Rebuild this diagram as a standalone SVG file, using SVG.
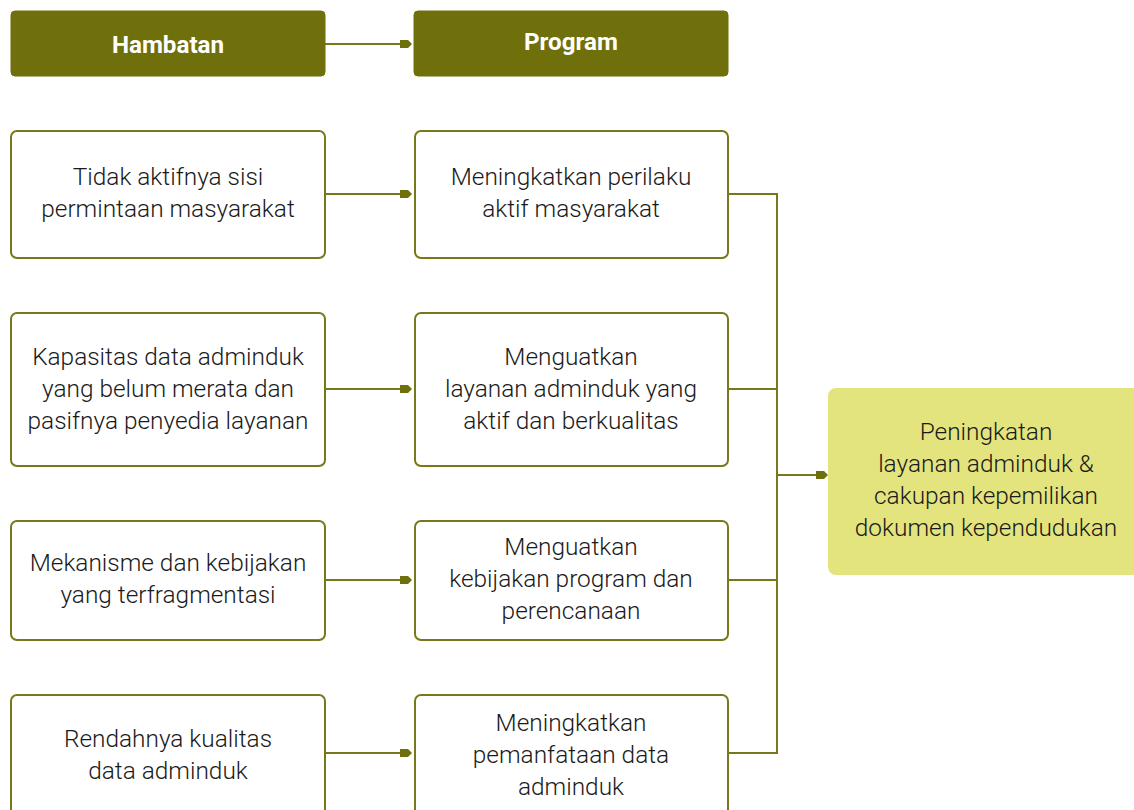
<svg xmlns="http://www.w3.org/2000/svg" width="1134" height="810" viewBox="0 0 1134 810">
<style>
.hdr{fill:#6f700c;stroke:#6f700c;stroke-width:1}
.box{fill:#ffffff;stroke:#78781a;stroke-width:2}
.goal{fill:#e4e47f;stroke:none}
.ht{font-family:Roboto,"Liberation Sans",sans-serif;font-weight:700;font-size:24.2px;fill:#ffffff;text-anchor:middle}
.t{font-family:Roboto,"Liberation Sans",sans-serif;font-weight:300;font-size:24.4px;fill:#1a1a1a;text-anchor:middle}
.c{fill:none;stroke:#78781a;stroke-width:2}
</style>
<defs>
<marker id="arr" viewBox="0 0 12 10" refX="11" refY="5" markerWidth="12" markerHeight="10" markerUnits="userSpaceOnUse" orient="auto">
<path d="M0,1 L8,1 L12,5 L8,9 L0,9 Z" fill="#6f700c"/>
</marker>
</defs>
<rect width="1134" height="810" fill="#ffffff"/>
<g id="connectors">
<line class="c" x1="325" y1="44" x2="411" y2="44" marker-end="url(#arr)"/>
<line class="c" x1="325" y1="194" x2="411" y2="194" marker-end="url(#arr)"/>
<line class="c" x1="325" y1="389" x2="411" y2="389" marker-end="url(#arr)"/>
<line class="c" x1="325" y1="580" x2="411" y2="580" marker-end="url(#arr)"/>
<line class="c" x1="325" y1="753" x2="411" y2="753" marker-end="url(#arr)"/>
<path class="c" d="M728,194 H777 V753 H728"/>
<line class="c" x1="728" y1="389" x2="777" y2="389"/>
<line class="c" x1="728" y1="580" x2="777" y2="580"/>
<line class="c" x1="777" y1="475" x2="827" y2="475" marker-end="url(#arr)"/>
</g>
<g id="hambatan">
<rect class="hdr" x="11" y="11" width="314" height="65" rx="4"/>
<text class="ht" x="168" y="53">Hambatan</text>
</g>
<g id="program">
<rect class="hdr" x="414" y="11" width="314" height="65" rx="4"/>
<text class="ht" x="571" y="50">Program</text>
</g>
<g id="h1">
<rect class="box" x="11" y="131" width="314" height="127" rx="6"/>
<text class="t" x="168" y="185">Tidak aktifnya sisi</text>
<text class="t" x="168" y="217">permintaan masyarakat</text>
</g>
<g id="p1">
<rect class="box" x="415" y="131" width="313" height="127" rx="6"/>
<text class="t" x="571" y="185">Meningkatkan perilaku</text>
<text class="t" x="571" y="217">aktif masyarakat</text>
</g>
<g id="h2">
<rect class="box" x="11" y="313" width="314" height="153" rx="6"/>
<text class="t" x="168" y="365">Kapasitas data adminduk</text>
<text class="t" x="168" y="397">yang belum merata dan</text>
<text class="t" x="168" y="429">pasifnya penyedia layanan</text>
</g>
<g id="p2">
<rect class="box" x="415" y="313" width="313" height="153" rx="6"/>
<text class="t" x="571" y="365">Menguatkan</text>
<text class="t" x="571" y="397">layanan adminduk yang</text>
<text class="t" x="571" y="429">aktif dan berkualitas</text>
</g>
<g id="h3">
<rect class="box" x="11" y="521" width="314" height="119" rx="6"/>
<text class="t" x="168" y="571">Mekanisme dan kebijakan</text>
<text class="t" x="168" y="603">yang terfragmentasi</text>
</g>
<g id="p3">
<rect class="box" x="415" y="521" width="313" height="119" rx="6"/>
<text class="t" x="571" y="555">Menguatkan</text>
<text class="t" x="571" y="587">kebijakan program dan</text>
<text class="t" x="571" y="619">perencanaan</text>
</g>
<g id="h4">
<rect class="box" x="11" y="695" width="314" height="130" rx="6"/>
<text class="t" x="168" y="747">Rendahnya kualitas</text>
<text class="t" x="168" y="779">data adminduk</text>
</g>
<g id="p4">
<rect class="box" x="415" y="695" width="313" height="130" rx="6"/>
<text class="t" x="571" y="731">Meningkatkan</text>
<text class="t" x="571" y="763">pemanfataan data</text>
<text class="t" x="571" y="795">adminduk</text>
</g>
<g id="goal">
<rect class="goal" x="828" y="388" width="320" height="187" rx="8"/>
<text class="t" x="986" y="440">Peningkatan</text>
<text class="t" x="986" y="472">layanan adminduk &amp;</text>
<text class="t" x="986" y="504">cakupan kepemilikan</text>
<text class="t" x="986" y="536">dokumen kependudukan</text>
</g>
</svg>
